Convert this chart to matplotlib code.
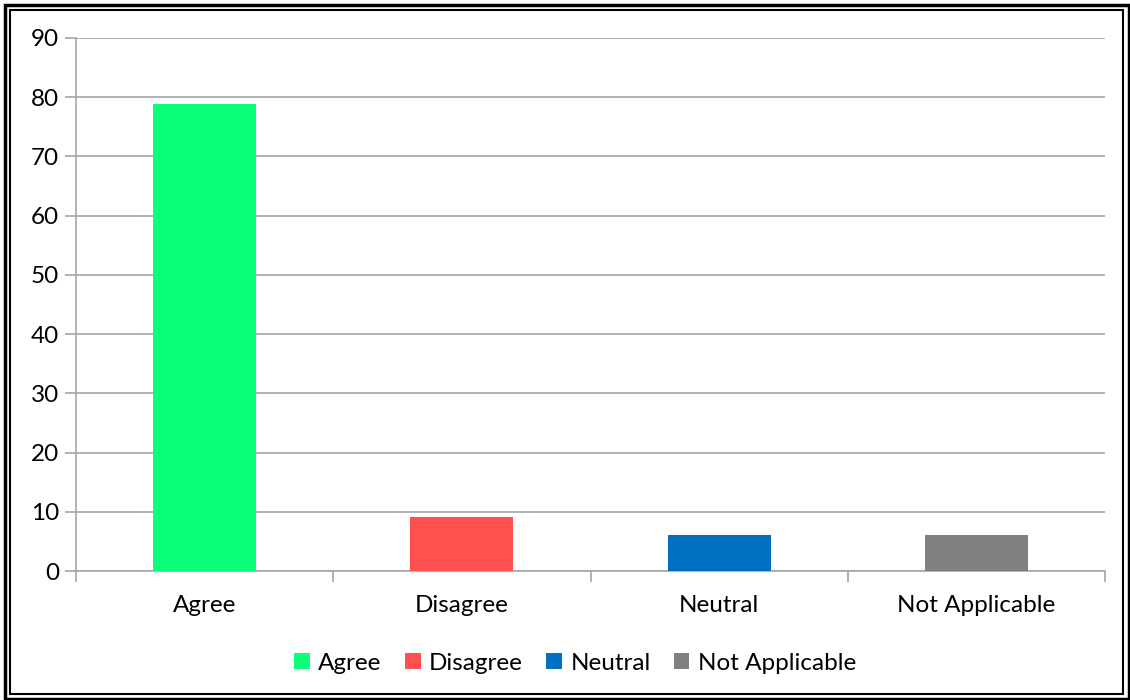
import matplotlib.pyplot as plt
from matplotlib.patches import Rectangle

categories = ["Agree", "Disagree", "Neutral", "Not Applicable"]
values = [78.8, 9.1, 6.1, 6.1]
colors = ["#0AFF7A", "#FF5050", "#0070C0", "#808080"]
y_ticks = [0, 10, 20, 30, 40, 50, 60, 70, 80, 90]

plt.rcParams["font.family"] = ["Lato", "DejaVu Sans"]


def main():
    fig = plt.figure(figsize=(11.3, 7), dpi=100)
    ax = fig.add_axes([76 / 1130, 1 - 571 / 700, 1029 / 1130, 533 / 700])

    x = range(len(categories))
    bars = ax.bar(x, values, width=0.4, color=colors, zorder=3)

    ax.set_xlim(-0.5, len(categories) - 0.5)
    ax.set_ylim(0, 90)
    ax.set_yticks(y_ticks)
    ax.set_xticks(list(x))
    ax.set_xticklabels(categories)
    ax.set_xticks([i - 0.5 for i in range(len(categories) + 1)], minor=True)

    ax.grid(axis="y", color="#A6A6A6", linewidth=1.2, zorder=0)
    for side in ["top", "right"]:
        ax.spines[side].set_visible(False)
    for side in ["left", "bottom"]:
        ax.spines[side].set_color("#A6A6A6")
        ax.spines[side].set_linewidth(1.2)

    ax.tick_params(axis="x", which="major", length=0, pad=17, labelsize=17.5)
    ax.tick_params(axis="x", which="minor", length=8, color="#A6A6A6", width=1.2)
    ax.tick_params(axis="y", length=8, color="#A6A6A6", width=1.2, pad=4, labelsize=17.5)

    ax.legend(bars, categories, loc="upper center", bbox_to_anchor=(0.485, -0.112),
              ncol=4, frameon=False, fontsize=17.5, handlelength=0.65, handleheight=0.65,
              handletextpad=0.35, columnspacing=0.95)

    # double border around the whole figure
    fig.patches.append(Rectangle((4.5 / 1130, 1.5 / 700), 1124 / 1130, 694 / 700,
                                 transform=fig.transFigure, fill=False,
                                 edgecolor="black", linewidth=2.5))
    fig.patches.append(Rectangle((10 / 1130, 6 / 700), 1113 / 1130, 684 / 700,
                                 transform=fig.transFigure, fill=False,
                                 edgecolor="black", linewidth=1.5))

    fig.savefig("out.png", dpi=100)


if __name__ == "__main__":
    main()
